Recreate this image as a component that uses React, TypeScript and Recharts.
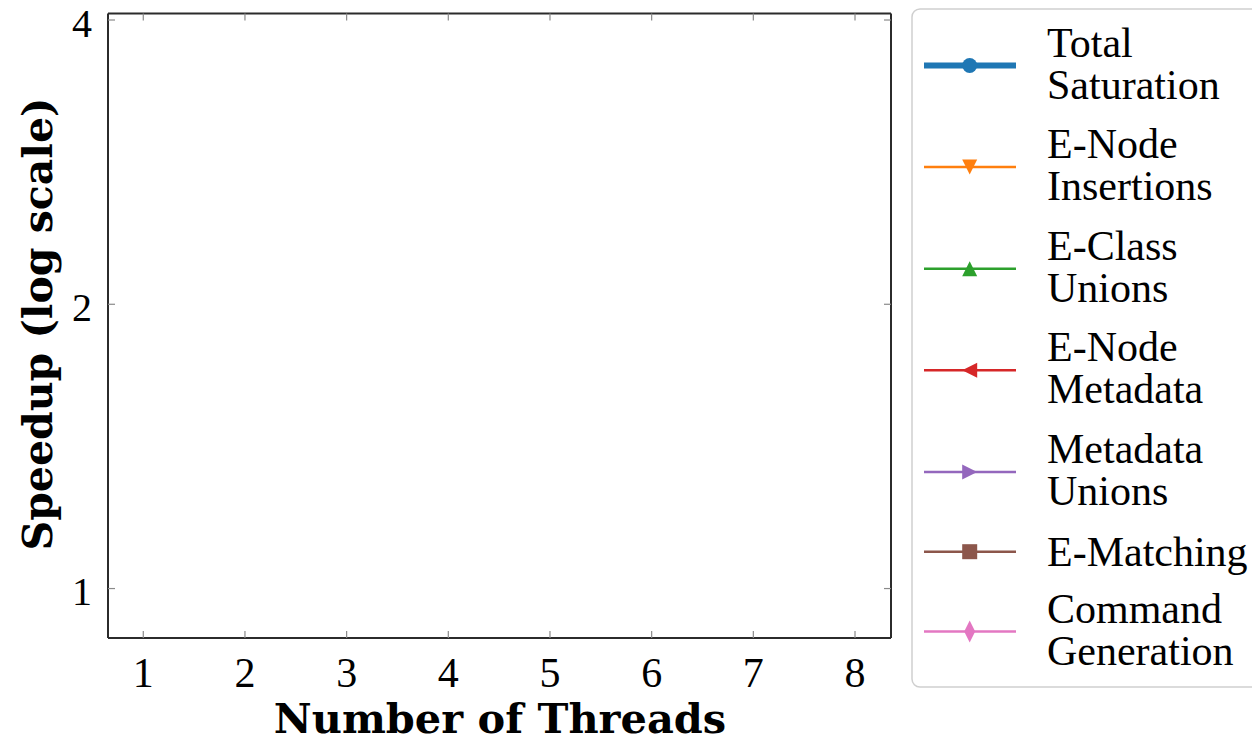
import React from 'react';
import { LineChart, Line, XAxis, YAxis, Legend } from 'recharts';

// ---- data (the reference plot area shows no plotted values) ----
const threads: number[] = [1, 2, 3, 4, 5, 6, 7, 8];
const totalSaturation: (number | null)[] = [null, null, null, null, null, null, null, null];
const eNodeInsertions: (number | null)[] = [null, null, null, null, null, null, null, null];
const eClassUnions: (number | null)[] = [null, null, null, null, null, null, null, null];
const eNodeMetadata: (number | null)[] = [null, null, null, null, null, null, null, null];
const metadataUnions: (number | null)[] = [null, null, null, null, null, null, null, null];
const eMatching: (number | null)[] = [null, null, null, null, null, null, null, null];
const commandGeneration: (number | null)[] = [null, null, null, null, null, null, null, null];

const xTicks: number[] = [1, 2, 3, 4, 5, 6, 7, 8];
const yTicks: number[] = [1, 2, 4];
const xDomain: [number, number] = [0.653, 8.354];
const yDomain: [number, number] = [0.8864, 4.064];

const seriesKeys = ['total', 'insert', 'union', 'meta', 'metaUnion', 'match', 'cmd'];
const seriesLabels = [
  ['Total', 'Saturation'],
  ['E-Node', 'Insertions'],
  ['E-Class', 'Unions'],
  ['E-Node', 'Metadata'],
  ['Metadata', 'Unions'],
  ['E-Matching'],
  ['Command', 'Generation'],
];
const seriesColors = ['#1f77b4', '#ff7f0e', '#2ca02c', '#d62728', '#9467bd', '#8c564b', '#e377c2'];
const seriesMarkers = ['circle', 'triDown', 'triUp', 'triLeft', 'triRight', 'square', 'diamond'];
const seriesValues = [
  totalSaturation, eNodeInsertions, eClassUnions, eNodeMetadata, metadataUnions, eMatching, commandGeneration,
];

const data = threads.map((t, i) => {
  const row: Record<string, number | null> = { threads: t };
  seriesKeys.forEach((k, s) => { row[k] = seriesValues[s][i]; });
  return row;
});

const SERIF = '"Liberation Serif", "Times New Roman", serif';
const BOLD = '"DejaVu Serif", serif';
const SPINE = '#2b2b2b';
const TICK = '#8a8a8a';

const BottomTick = (props: any) => {
  const { x, y, payload } = props;
  return (
    <g>
      <line x1={x} x2={x} y1={y} y2={y - 7} stroke={TICK} strokeWidth={1.2} />
      <text x={x} y={y + 49} textAnchor="middle" fontFamily={SERIF} fontSize={42} fill="#000">
        {payload.value}
      </text>
    </g>
  );
};
const TopTick = (props: any) => {
  const { x, y } = props;
  return <line x1={x} x2={x} y1={y} y2={y + 7} stroke={TICK} strokeWidth={1.2} />;
};
const LeftTick = (props: any) => {
  const { x, y, payload } = props;
  return (
    <g>
      <line x1={x} x2={x + 7} y1={y} y2={y} stroke={TICK} strokeWidth={1.2} />
      <text x={x - 16} y={y + 16.5} textAnchor="end" fontFamily={SERIF} fontSize={40} fill="#000">
        {payload.value}
      </text>
    </g>
  );
};
const RightTick = (props: any) => {
  const { x, y } = props;
  return <line x1={x} x2={x - 7} y1={y} y2={y} stroke={TICK} strokeWidth={1.2} />;
};

const Marker = ({ kind, cx, cy, color }: { kind: string; cx: number; cy: number; color: string }) => {
  const s = 7.5;
  switch (kind) {
    case 'circle':
      return <circle cx={cx} cy={cy} r={7.5} fill={color} />;
    case 'triDown':
      return <path d={`M${cx - s},${cy - s} L${cx + s},${cy - s} L${cx},${cy + s} Z`} fill={color} />;
    case 'triUp':
      return <path d={`M${cx - s},${cy + s} L${cx + s},${cy + s} L${cx},${cy - s} Z`} fill={color} />;
    case 'triLeft':
      return <path d={`M${cx + s},${cy - s} L${cx + s},${cy + s} L${cx - s},${cy} Z`} fill={color} />;
    case 'triRight':
      return <path d={`M${cx - s},${cy - s} L${cx - s},${cy + s} L${cx + s},${cy} Z`} fill={color} />;
    case 'square':
      return <rect x={cx - 7.5} y={cy - 7.5} width={15} height={15} fill={color} />;
    case 'diamond':
      return <path d={`M${cx},${cy - 11} L${cx + 5.5},${cy} L${cx},${cy + 11} L${cx - 5.5},${cy} Z`} fill={color} />;
    default:
      return null;
  }
};

const LegendContent = () => {
  const twoH = 101.6;
  const oneH = 58;
  let cursor = 6.7;
  const items = seriesLabels.map((lines, i) => {
    const h = lines.length > 1 ? twoH : oneH;
    const cy = cursor + h / 2;
    cursor += h;
    return { lines, cy, i };
  });
  return (
    <svg width={345} height={682} style={{ display: 'block' }}>
      <rect x={1} y={1} width={360} height={678} rx={8} ry={8} fill="#fff" stroke="#cfcfcf" strokeWidth={1.5} />
      {items.map(({ lines, cy, i }) => (
        <g key={seriesKeys[i]}>
          <line x1={13} x2={105} y1={cy} y2={cy} stroke={seriesColors[i]} strokeWidth={i === 0 ? 6 : 2.5} />
          <Marker kind={seriesMarkers[i]} cx={58.7} cy={cy} color={seriesColors[i]} />
          {lines.length > 1 ? (
            <>
              <text x={136} y={cy - 9} fontFamily={SERIF} fontSize={42} fill="#000">{lines[0]}</text>
              <text x={136} y={cy + 33} fontFamily={SERIF} fontSize={42} fill="#000">{lines[1]}</text>
            </>
          ) : (
            <text x={136} y={cy + 14} fontFamily={SERIF} fontSize={42} fill="#000">{lines[0]}</text>
          )}
        </g>
      ))}
    </svg>
  );
};

const YLabel = () => (
  <text
    x={52}
    y={324}
    transform="rotate(-90, 52, 324)"
    textAnchor="middle"
    fontFamily={BOLD}
    fontWeight="bold"
    fontSize={41}
    fill="#000"
  >
    Speedup (log scale)
  </text>
);

const XLabel = () => (
  <text x={500} y={733} textAnchor="middle" fontFamily={BOLD} fontWeight="bold" fontSize={41.5} fill="#000">
    Number of Threads
  </text>
);

export default function App() {
  return (
    <div style={{ position: 'absolute', left: 0, top: 0, width: 1252, height: 742, overflow: 'hidden', background: '#fff' }}>
      <LineChart width={1252} height={742} data={data} margin={{ top: 12.5, right: 360, bottom: 0, left: 0 }}>
        <XAxis
          dataKey="threads"
          type="number"
          domain={xDomain}
          ticks={xTicks}
          allowDataOverflow
          height={104}
          tickSize={0}
          tickMargin={0}
          tickLine={false}
          axisLine={{ stroke: SPINE, strokeWidth: 2 }}
          tick={<BottomTick />}
          label={<XLabel />}
        />
        <XAxis
          xAxisId="top"
          orientation="top"
          dataKey="threads"
          type="number"
          domain={xDomain}
          ticks={xTicks}
          allowDataOverflow
          height={1}
          tickSize={0}
          tickMargin={0}
          tickLine={false}
          axisLine={{ stroke: SPINE, strokeWidth: 2 }}
          tick={<TopTick />}
        />
        <YAxis
          type="number"
          scale="log"
          domain={yDomain}
          ticks={yTicks}
          allowDataOverflow
          width={108}
          tickSize={0}
          tickMargin={0}
          tickLine={false}
          axisLine={{ stroke: SPINE, strokeWidth: 2 }}
          tick={<LeftTick />}
          label={<YLabel />}
        />
        <YAxis
          yAxisId="right"
          orientation="right"
          type="number"
          scale="log"
          domain={yDomain}
          ticks={yTicks}
          allowDataOverflow
          width={1}
          tickSize={0}
          tickMargin={0}
          tickLine={false}
          axisLine={{ stroke: SPINE, strokeWidth: 2 }}
          tick={<RightTick />}
        />
        {seriesKeys.map((k, i) => (
          <Line
            key={k}
            dataKey={k}
            xAxisId={i === seriesKeys.length - 1 ? 'top' : 0}
            yAxisId={i === seriesKeys.length - 1 ? 'right' : 0}
            name={seriesLabels[i].join(' ')}
            stroke={seriesColors[i]}
            strokeWidth={i === 0 ? 4 : 2}
            dot={false}
            isAnimationActive={false}
          />
        ))}
        <Legend
          layout="horizontal"
          align="center"
          verticalAlign="middle"
          content={<LegendContent />}
          wrapperStyle={{ left: 911, top: 8, width: 345, height: 682 }}
        />
      </LineChart>
    </div>
  );
}
